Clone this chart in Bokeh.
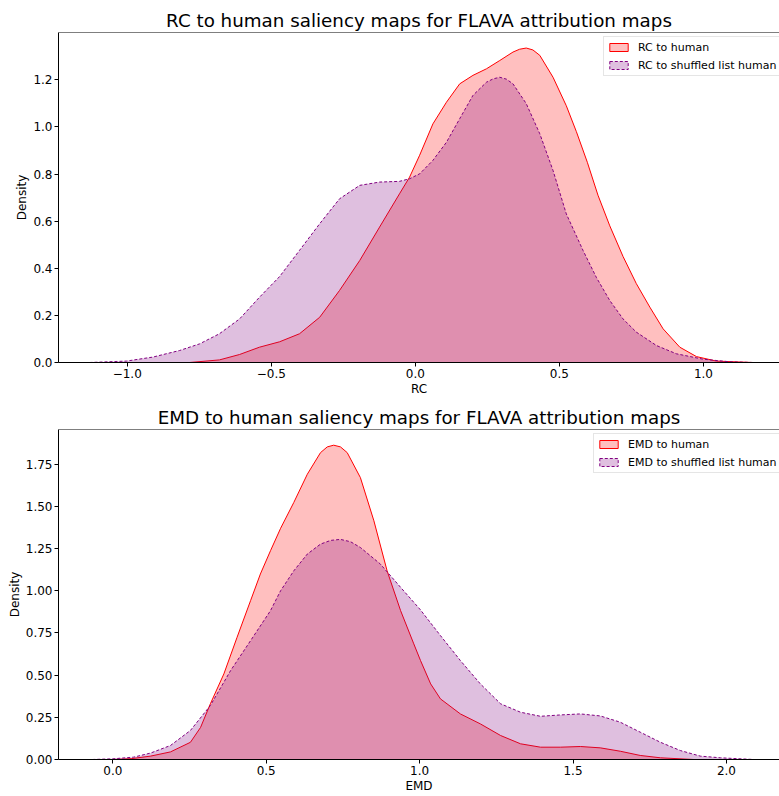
from bokeh.plotting import figure
from bokeh.layouts import column
from bokeh.models import FixedTicker, CustomJSTickFormatter, Legend, LegendItem, Span, Range1d
from bokeh.embed import file_html
from bokeh.resources import INLINE

# ---------------- data ----------------
# Top panel: RC densities
rc_human_x = [-0.784, -0.68, -0.61, -0.541, -0.471, -0.402, -0.332, -0.263, -0.193, -0.124,
              -0.055, -0.02, 0.015, 0.061, 0.108, 0.154, 0.2, 0.247, 0.293, 0.339, 0.362,
              0.385, 0.408, 0.432, 0.478, 0.524, 0.559, 0.597, 0.634, 0.675, 0.721, 0.767,
              0.814, 0.86, 0.918, 0.976, 1.045, 1.172]
rc_human_d = [0, 0.011, 0.034, 0.065, 0.088, 0.122, 0.192, 0.306, 0.433, 0.575,
              0.716, 0.787, 0.88, 1.013, 1.105, 1.183, 1.219, 1.247, 1.282, 1.318, 1.33,
              1.335, 1.327, 1.304, 1.211, 1.09, 0.98, 0.85, 0.71, 0.58, 0.45, 0.335,
              0.235, 0.143, 0.065, 0.025, 0.006, 0]
rc_shuf_x = [-1.131, -1.003, -0.911, -0.818, -0.749, -0.68, -0.61, -0.541, -0.471, -0.402,
             -0.332, -0.263, -0.193, -0.124, -0.055, -0.02, 0.015, 0.061, 0.108, 0.154,
             0.2, 0.247, 0.27, 0.293, 0.316, 0.339, 0.385, 0.432, 0.478, 0.524, 0.582,
             0.628, 0.675, 0.721, 0.767, 0.837, 0.906, 0.999, 1.091, 1.172]
rc_shuf_d = [0, 0.006, 0.023, 0.051, 0.079, 0.122, 0.185, 0.277, 0.365, 0.476,
             0.589, 0.695, 0.752, 0.766, 0.769, 0.78, 0.801, 0.858, 0.935, 1.035,
             1.134, 1.19, 1.204, 1.211, 1.203, 1.183, 1.099, 0.971, 0.815, 0.631, 0.476,
             0.362, 0.263, 0.185, 0.129, 0.072, 0.037, 0.014, 0.003, 0]

# Bottom panel: EMD densities
emd_human_x = [0.0, 0.06, 0.123, 0.188, 0.253, 0.286, 0.318, 0.362, 0.405, 0.449, 0.481,
               0.514, 0.547, 0.59, 0.634, 0.677, 0.699, 0.72, 0.742, 0.764, 0.807, 0.851,
               0.894, 0.938, 0.981, 1.003, 1.036, 1.068, 1.133, 1.198, 1.264, 1.329, 1.394,
               1.459, 1.524, 1.589, 1.654, 1.719, 1.785, 1.894]
emd_human_d = [0, 0.005, 0.02, 0.045, 0.102, 0.19, 0.33, 0.507, 0.724, 0.941, 1.099,
               1.237, 1.37, 1.523, 1.69, 1.818, 1.852, 1.862, 1.852, 1.818, 1.67, 1.414,
               1.118, 0.882, 0.685, 0.586, 0.448, 0.359, 0.27, 0.211, 0.142, 0.093, 0.073,
               0.073, 0.077, 0.069, 0.049, 0.024, 0.01, 0]
emd_shuf_x = [-0.067, 0.0, 0.068, 0.123, 0.188, 0.253, 0.318, 0.384, 0.449, 0.514, 0.547,
              0.59, 0.634, 0.677, 0.71, 0.742, 0.775, 0.807, 0.872, 0.938, 1.003, 1.068,
              1.133, 1.198, 1.264, 1.329, 1.394, 1.459, 1.524, 1.589, 1.654, 1.719, 1.785,
              1.85, 1.915, 1.981, 2.09]
emd_shuf_d = [0, 0.004, 0.014, 0.038, 0.083, 0.172, 0.32, 0.527, 0.704, 0.882, 1.0,
              1.118, 1.217, 1.276, 1.298, 1.304, 1.29, 1.256, 1.158, 1.02, 0.886, 0.734,
              0.586, 0.448, 0.33, 0.28, 0.256, 0.264, 0.27, 0.258, 0.221, 0.162, 0.102,
              0.053, 0.02, 0.01, 0]

# Tick values
rc_xticks = [-1.0, -0.5, 0.0, 0.5, 1.0]
rc_yticks = [0.0, 0.2, 0.4, 0.6, 0.8, 1.0, 1.2]
emd_xticks = [0.0, 0.5, 1.0, 1.5, 2.0]
emd_yticks = [0.0, 0.25, 0.5, 0.75, 1.0, 1.25, 1.5, 1.75]

# Labels
titles = ["RC to human saliency maps for FLAVA attribution maps",
          "EMD to human saliency maps for FLAVA attribution maps"]
xlabels = ["RC", "EMD"]
legend_labels = [["RC to human", "RC to shuffled list human"],
                 ["EMD to human", "EMD to shuffled list human"]]

# Axis limits
rc_xlim = (-1.2385, 1.264)
rc_ylim = (0.0, 1.401)
emd_xlim = (-0.177, 2.173)
emd_ylim = (0.0, 1.955)

FONT = "DejaVu Sans"


def fmt(decimals):
    return CustomJSTickFormatter(
        code="return tick.toFixed(%d).replace('-', '\\u2212');" % decimals)


def make_panel(title, xlabel, xs, ds, labels, xlim, ylim, xticks, yticks, ydec,
               height, top, bottom, leg_x):
    p = figure(width=779, height=height, output_backend="svg", toolbar_location=None,
               x_range=Range1d(*xlim), y_range=Range1d(*ylim),
               min_border_left=58, min_border_right=0,
               min_border_top=top, min_border_bottom=bottom)
    p.title.text = title
    p.title.text_font = FONT
    p.title.text_font_size = "18.3px"
    p.title.text_font_style = "normal"
    p.title.align = "center"
    p.title.text_color = "black"
    p.title.standoff = 4

    p.xgrid.visible = False
    p.ygrid.visible = False
    p.outline_line_color = None
    p.background_fill_color = "white"
    p.border_fill_color = "white"

    for ax in (p.xaxis[0], p.yaxis[0]):
        ax.axis_line_color = "black"
        ax.major_tick_line_color = "black"
        ax.major_tick_in = 0
        ax.major_tick_out = 4
        ax.minor_tick_line_color = None
        ax.major_label_text_font = FONT
        ax.major_label_text_font_size = "12px"
        ax.major_label_text_color = "black"
        ax.axis_label_text_font = FONT
        ax.axis_label_text_font_size = "12px"
        ax.axis_label_text_font_style = "normal"
        ax.axis_label_text_color = "black"
        ax.major_label_standoff = 2
        ax.axis_label_standoff = 1

    p.xaxis.ticker = FixedTicker(ticks=xticks)
    p.yaxis.ticker = FixedTicker(ticks=yticks)
    p.xaxis.formatter = fmt(1)
    p.yaxis.formatter = fmt(ydec)
    p.xaxis.axis_label = xlabel
    p.yaxis.axis_label = "Density"

    # top spine
    p.add_layout(Span(location=ylim[1], dimension="width", line_color="black",
                      line_width=1))

    colors = ["red", "purple"]
    dashes = ["solid", "3 2"]
    items = []
    for (x, d), c, dash, lab in zip(zip(xs, ds), colors, dashes, labels):
        px = list(x) + list(x[::-1])
        py = list(d) + [0.0] * len(d)
        r = p.patch(px, py, fill_color=c, fill_alpha=0.25, line_color=c,
                    line_width=1, line_dash=dash)
        items.append(LegendItem(label=lab, renderers=[r]))

    leg = Legend(items=items, location=(leg_x, 286))
    leg.label_text_font = FONT
    leg.label_text_font_size = "11px"
    leg.label_text_color = "black"
    leg.glyph_width = 23
    leg.glyph_height = 10
    leg.label_height = 14
    leg.label_standoff = 8
    leg.padding = 3
    leg.spacing = 4
    leg.margin = 0
    leg.border_line_color = "#cccccc"
    leg.border_line_width = 1
    leg.background_fill_alpha = 0.8
    p.add_layout(leg, "center")
    return p


p1 = make_panel(titles[0], xlabels[0], [rc_human_x, rc_shuf_x], [rc_human_d, rc_shuf_d],
                legend_labels[0], rc_xlim, rc_ylim, rc_xticks, rc_yticks, 1,
                400, 32, 38, 545)
p2 = make_panel(titles[1], xlabels[1], [emd_human_x, emd_shuf_x], [emd_human_d, emd_shuf_d],
                legend_labels[1], emd_xlim, emd_ylim, emd_xticks, emd_yticks, 2,
                396, 29, 37, 535)

layout = column(p1, p2, spacing=0)
open("out.html", "w").write(file_html(layout, INLINE))
